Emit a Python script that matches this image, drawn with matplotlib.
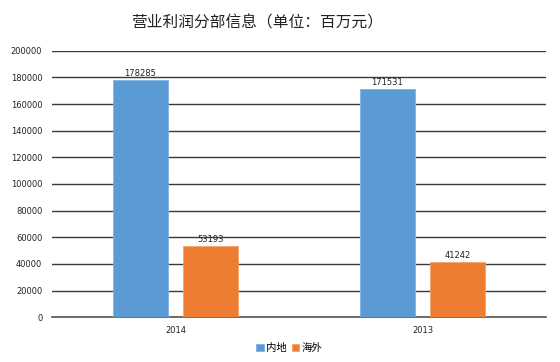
import numpy as np
import matplotlib.pyplot as plt

plt.rcParams['font.family'] = ['Noto Sans CJK SC', 'DejaVu Sans']

# data
years = ['2014', '2013']
mainland = [178285, 171531]
overseas = [53193, 41242]
series_names = ['内地', '海外']
yticks = list(range(0, 200001, 20000))

fig = plt.figure(figsize=(5.6, 3.62), dpi=100)
ax = fig.add_axes([0.093, 0.1235, 0.882, 0.7365])

x = np.arange(len(years))
w = 0.222
off = 0.142
b1 = ax.bar(x - off, mainland, w, color='#5B9BD5', edgecolor='#7FB2E5', linewidth=0.6,
            label=series_names[0], zorder=3)
b2 = ax.bar(x + off, overseas, w, color='#ED7D31', edgecolor='#F4A36E', linewidth=0.6,
            label=series_names[1], zorder=3)

for bars, vals in ((b1, mainland), (b2, overseas)):
    for r, v in zip(bars, vals):
        ax.text(r.get_x() + r.get_width() / 2, v + 1500, str(v), ha='center', va='bottom',
                fontsize=6, family='DejaVu Sans', color='#222222')

ax.set_xlim(-0.5, 1.5)
ax.set_ylim(0, 200000)
ax.set_yticks(yticks)
ax.set_yticklabels([str(t) for t in yticks], fontsize=6, family='DejaVu Sans')
ax.set_xticks(x)
ax.set_xticklabels(years, fontsize=6, family='DejaVu Sans')
ax.tick_params(axis='both', length=0, pad=7, colors='#222222')
ax.tick_params(axis='x', pad=6)

ax.grid(axis='y', color='#3a3a3a', linewidth=1.0, zorder=0)
for s in ['top', 'right', 'left']:
    ax.spines[s].set_visible(False)
ax.spines['bottom'].set_color('#555555')
ax.spines['bottom'].set_linewidth(1.2)

fig.text(0.459, 0.937, '营业利润分部信息（单位：百万元）', ha='center', va='center',
         fontsize=11.3, color='#222222')

ax.legend(loc='center', bbox_to_anchor=(0.48, -0.115), ncol=2, frameon=False,
          fontsize=7.5, handlelength=0.7, handleheight=0.7, handletextpad=0.2,
          columnspacing=0.5)

fig.savefig('out.png', dpi=100)
